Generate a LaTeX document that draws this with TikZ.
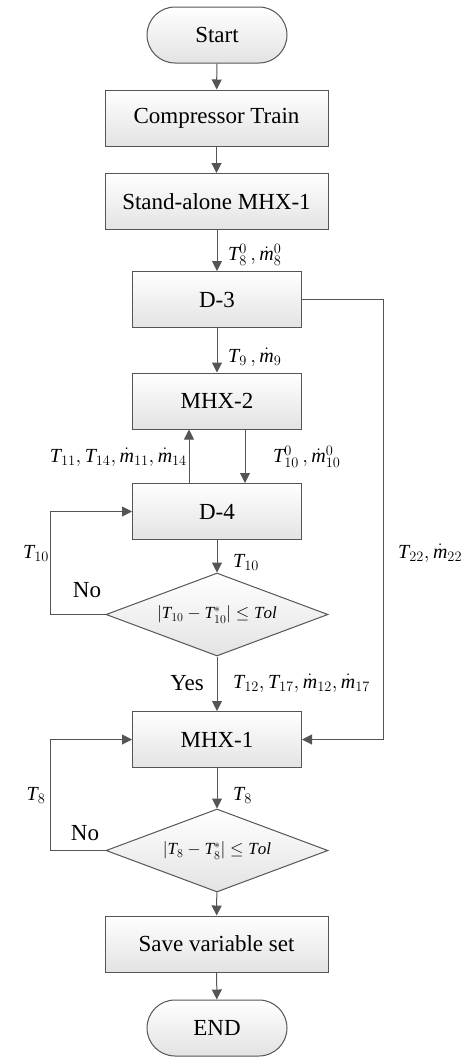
\documentclass[tikz,border=0pt]{standalone}
\usepackage{fontspec}
\setmainfont{Liberation Serif}
\usetikzlibrary{arrows.meta,shapes.geometric,shapes.misc}
\definecolor{linecol}{HTML}{555555}
\newcommand{\Tm}{\mathit{T}}
\newcommand{\Mm}{\dot{\mathit{m}}}
\begin{document}
\begin{tikzpicture}[x=1pt,y=-1pt,
  base/.style={draw=linecol, line width=1pt, top color=white, bottom color=black!11, inner sep=0pt, font=\fontsize{23}{27}\selectfont},
  procbox/.style={base, rectangle, minimum height=56pt},
  widebox/.style={procbox, minimum width=223pt},
  narrowbox/.style={procbox, minimum width=169pt},
  term/.style={base, rounded rectangle, minimum width=140pt, minimum height=56pt},
  decision/.style={base, diamond, shape aspect=2.675, minimum width=222pt, minimum height=83pt, font=\fontsize{17}{21}\selectfont},
  arr/.style={draw=linecol, line width=1pt, -{Triangle[length=10pt,width=10pt]}},
  lbl/.style={inner sep=0pt, font=\fontsize{20}{24}\selectfont},
  word/.style={inner sep=0pt, font=\fontsize{23}{27}\selectfont}
]
\useasboundingbox (0,0) rectangle (462,1061);

\node[term] (start) at (217,35) {Start};
\node[widebox] (comp) at (216.5,118) {Compressor Train};
\node[widebox] (sa) at (216.5,201.5) {Stand-alone MHX-1};
\node[narrowbox] (d3) at (217,299.5) {D-3};
\node[narrowbox] (mhx2) at (217,401) {MHX-2};
\node[narrowbox] (d4) at (217,511.5) {D-4};
\node[decision] (dia1) at (217,614.5) {$\bigl|\Tm_{10}-\Tm_{10}^{*}\bigr|\leq \mathit{Tol}$};
\node[narrowbox] (mhx1) at (217,739.5) {MHX-1};
\node[decision] (dia2) at (217,850.5) {$\bigl|\Tm_{8}-\Tm_{8}^{*}\bigr|\leq \mathit{Tol}$};
\node[widebox] (save) at (216.5,944) {Save variable set};
\node[term] (end) at (217,1028) {END};

\draw[arr] (start) -- (comp);
\draw[arr] (comp) -- (sa);
\draw[arr] (sa.south -| d3.north) -- (d3);
\draw[arr] (d3) -- (mhx2);
\draw[arr] ([xshift=-28pt]d4.north) -- ([xshift=-28pt]mhx2.south);
\draw[arr] ([xshift=28pt]mhx2.south) -- ([xshift=28pt]d4.north);
\draw[arr] (d4) -- (dia1);
\draw[arr] (dia1.west) -- ++(-55,0) coordinate (l1) |- (d4.west);
\draw[arr] (dia1) -- (mhx1);
\draw[arr] (d3.east) -- ++(81,0) coordinate (r1) |- (mhx1.east);
\draw[arr] (mhx1) -- (dia2);
\draw[arr] (dia2.west) -- ++(-55,0) coordinate (l2) |- (mhx1.west);
\draw[arr] (dia2) -- (save);
\draw[arr] (save) -- (end);

\node[lbl, anchor=west] (lb1) at (228,255) {$\Tm_{8}^{0}\,,\Mm_{8}^{0}$};
\node[lbl, anchor=west] (lb2) at (228,357) {$\Tm_{9}\,,\Mm_{9}$};
\node[lbl, anchor=east] (lb3) at (187,457) {$\Tm_{11},\Tm_{14},\Mm_{11},\Mm_{14}$};
\node[lbl, anchor=west] (lb4) at (273,457) {$\Tm_{10}^{0}\,,\Mm_{10}^{0}$};
\node[lbl] (lb5) at (36,553) {$\Tm_{10}$};
\node[lbl, anchor=west] (lb6) at (233,562) {$\Tm_{10}$};
\node[word] (no1) at (87,590) {No};
\node[word] (yes) at (187,683) {Yes};
\node[lbl, anchor=west] (lb7) at (233,683) {$\Tm_{12},\Tm_{17},\Mm_{12},\Mm_{17}$};
\node[lbl, anchor=west] (lb8) at (398,553) {$\Tm_{22},\Mm_{22}$};
\node[lbl] (lb9) at (36,795) {$\Tm_{8}$};
\node[lbl, anchor=west] (lb10) at (233,795) {$\Tm_{8}$};
\node[word] (no2) at (85,833) {No};
\end{tikzpicture}
\end{document}
